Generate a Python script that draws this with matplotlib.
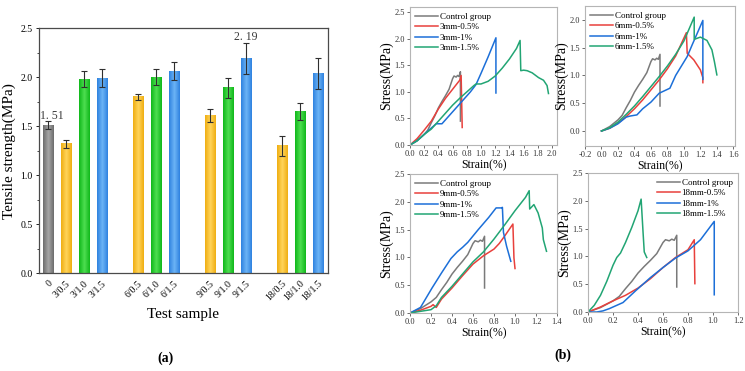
import numpy as np
import matplotlib
matplotlib.use("Agg")
import matplotlib.pyplot as plt
from matplotlib.colors import LinearSegmentedColormap

plt.rcParams['font.family'] = ['Liberation Serif', 'DejaVu Serif']

# --- (a) tensile strength bars ---
samples = ["0", "3/0.5", "3/1.0", "3/1.5", "6/0.5", "6/1.0", "6/1.5",
           "9/0.5", "9/1.0", "9/1.5", "18/0.5", "18/1.0", "18/1.5"]
strength = [1.51, 1.32, 1.98, 1.99, 1.80, 2.00, 2.06, 1.61, 1.89, 2.19, 1.30, 1.65, 2.04]
strength_err = [0.04, 0.04, 0.08, 0.09, 0.03, 0.08, 0.09, 0.07, 0.10, 0.16, 0.10, 0.09, 0.16]
bar_pos = [0, 1, 2, 3, 5, 6, 7, 9, 10, 11, 13, 14, 15]
bar_kind = ["ctrl", "0.5", "1.0", "1.5", "0.5", "1.0", "1.5",
            "0.5", "1.0", "1.5", "0.5", "1.0", "1.5"]

# --- (b) stress-strain curves ---
ctrl_x = [0, 0.1, 0.2, 0.25, 0.3, 0.35, 0.4, 0.45, 0.5, 0.55, 0.6, 0.62, 0.65, 0.67, 0.69, 0.71, 0.71]
ctrl_y = [0, 0.08, 0.2, 0.28, 0.42, 0.55, 0.7, 0.82, 0.93, 1.05, 1.25, 1.3, 1.28, 1.31, 1.29, 1.38, 0.45]

mm3_05_x = [0, 0.1, 0.2, 0.3, 0.4, 0.5, 0.6, 0.7, 0.72, 0.735]
mm3_05_y = [0, 0.12, 0.28, 0.45, 0.68, 0.88, 1.05, 1.22, 1.31, 0.33]
mm3_1_x = [0, 0.1, 0.2, 0.3, 0.37, 0.45, 0.55, 0.65, 0.75, 0.85, 0.93, 1.0, 1.1, 1.21, 1.21]
mm3_1_y = [0, 0.08, 0.2, 0.32, 0.4, 0.4, 0.55, 0.7, 0.85, 1.0, 1.14, 1.35, 1.66, 2.02, 0.98]
mm3_15_x = [0, 0.1, 0.2, 0.3, 0.4, 0.5, 0.6, 0.7, 0.8, 0.9, 0.93, 1.0, 1.1, 1.2, 1.3, 1.4, 1.5, 1.55,
            1.56, 1.6, 1.65, 1.72, 1.81, 1.88, 1.93, 1.95]
mm3_15_y = [0, 0.08, 0.2, 0.3, 0.45, 0.6, 0.75, 0.88, 1.0, 1.12, 1.15, 1.15, 1.2, 1.3, 1.45, 1.62, 1.82, 1.97,
            1.4, 1.41, 1.4, 1.36, 1.27, 1.22, 1.12, 0.97]

mm6_05_x = [0, 0.1, 0.2, 0.3, 0.4, 0.5, 0.6, 0.7, 0.8, 0.9, 1.03, 1.04, 1.12, 1.2, 1.23, 1.23]
mm6_05_y = [0, 0.05, 0.14, 0.26, 0.4, 0.56, 0.74, 0.92, 1.12, 1.35, 1.77, 1.40, 1.28, 1.1, 0.96, 0.87]
mm6_1_x = [0, 0.1, 0.2, 0.3, 0.35, 0.43, 0.5, 0.6, 0.7, 0.83, 0.9, 1.04, 1.1, 1.23, 1.23]
mm6_1_y = [0, 0.05, 0.13, 0.25, 0.27, 0.29, 0.4, 0.52, 0.68, 0.77, 1.0, 1.34, 1.55, 1.99, 0.93]
mm6_15_x = [0, 0.1, 0.2, 0.3, 0.4, 0.5, 0.6, 0.7, 0.8, 0.9, 1.0, 1.125, 1.125, 1.2, 1.28, 1.34, 1.37, 1.40]
mm6_15_y = [0, 0.06, 0.16, 0.3, 0.45, 0.62, 0.8, 0.98, 1.17, 1.38, 1.62, 2.05, 1.65, 1.69, 1.63, 1.46, 1.25, 1.01]

mm9_05_x = [0, 0.1, 0.2, 0.22, 0.25, 0.3, 0.4, 0.5, 0.6, 0.7, 0.8, 0.85, 0.9, 0.98, 0.99, 1.0]
mm9_05_y = [0, 0.05, 0.12, 0.15, 0.1, 0.25, 0.45, 0.67, 0.88, 1.03, 1.15, 1.25, 1.38, 1.6, 0.99, 0.8]
mm9_1_x = [0, 0.1, 0.21, 0.3, 0.39, 0.45, 0.5, 0.55, 0.65, 0.75, 0.82, 0.87, 0.88, 0.89, 0.92, 0.96]
mm9_1_y = [0, 0.1, 0.45, 0.72, 0.98, 1.1, 1.18, 1.27, 1.5, 1.72, 1.89, 1.89, 1.9, 1.45, 1.2, 0.93]
mm9_15_x = [0, 0.1, 0.2, 0.25, 0.3, 0.4, 0.5, 0.6, 0.7, 0.8, 0.9, 1.0, 1.1, 1.135, 1.14, 1.18, 1.22, 1.26,
            1.27, 1.30]
mm9_15_y = [0, 0.03, 0.06, 0.13, 0.28, 0.48, 0.7, 0.92, 1.1, 1.33, 1.58, 1.84, 2.08, 2.2, 1.87, 1.95, 1.8, 1.53,
            1.32, 1.11]

mm18_05_x = [0, 0.1, 0.2, 0.3, 0.4, 0.5, 0.6, 0.7, 0.8, 0.85, 0.855]
mm18_05_y = [0, 0.09, 0.2, 0.3, 0.43, 0.6, 0.8, 0.98, 1.12, 1.3, 0.51]
mm18_1_x = [0, 0.07, 0.12, 0.17, 0.28, 0.38, 0.5, 0.6, 0.7, 0.8, 0.9, 1.01, 1.01]
mm18_1_y = [0, 0.0, 0.02, 0.06, 0.17, 0.38, 0.62, 0.8, 0.97, 1.1, 1.3, 1.63, 0.31]
mm18_15_x = [0, 0.05, 0.1, 0.15, 0.2, 0.23, 0.26, 0.3, 0.35, 0.4, 0.425, 0.44, 0.45, 0.47]
mm18_15_y = [0, 0.12, 0.3, 0.55, 0.84, 0.98, 1.06, 1.25, 1.52, 1.82, 2.03, 1.45, 1.08, 0.98]

GRAY, RED, BLUE, GREEN = "#7a7a7a", "#e8403c", "#1c6fd8", "#22a574"

bar_colors = {
    "ctrl": ("#6c6c6c", "#a6a6a6"),
    "0.5": ("#efae12", "#ffd45a"),
    "1.0": ("#0fb81a", "#4ede50"),
    "1.5": ("#2f82e0", "#6cb4f6"),
}

fig = plt.figure(figsize=(7.45, 3.71), dpi=100)

# ---------------- panel (a) ----------------
ax = fig.add_axes([0.0523, 0.264, 0.388, 0.660])
w = 0.6
grad = 1 - np.abs(np.linspace(-1, 1, 64))
for x, h, k in zip(bar_pos, strength, bar_kind):
    cmap = LinearSegmentedColormap.from_list(k, list(bar_colors[k]))
    ax.imshow(grad[None, :], extent=(x - w / 2, x + w / 2, 0, h), cmap=cmap,
              aspect="auto", vmin=0, vmax=1, zorder=2)
ax.errorbar(bar_pos, strength, yerr=strength_err, fmt="none", ecolor="#2f2f2f",
            elinewidth=0.8, capsize=2.5, capthick=0.8, zorder=3)
ax.text(bar_pos[0] - 0.42, 1.6, "1. 51", ha="left", va="center", fontsize=8.5, color="#3a3a3a")
ax.text(bar_pos[9], 2.41, "2. 19", ha="center", va="center", fontsize=8.5, color="#3a3a3a")
ax.set_xlim(-0.5, 15.55)
ax.set_ylim(0, 2.5)
ax.set_aspect("auto")
ax.set_xticks(bar_pos)
ax.set_xticklabels(samples, rotation=45, ha="right", va="top", rotation_mode="anchor",
                   fontsize=7)
ax.set_yticks(np.arange(0, 2.51, 0.5))
ax.set_yticklabels([f"{v:.1f}" for v in np.arange(0, 2.51, 0.5)], fontsize=7)
ax.set_yticks(np.arange(0, 2.51, 0.25), minor=True)
ax.tick_params(axis="x", length=0, pad=4)
ax.tick_params(axis="y", which="major", direction="out", length=2.5, width=0.6, pad=2)
ax.tick_params(axis="y", which="minor", direction="out", length=1.5, width=0.5)
for s in ax.spines.values():
    s.set_color("#4a4a4a")
    s.set_linewidth(0.9)
ax.set_ylabel("Tensile strength(MPa)", fontsize=11, labelpad=3)
ax.set_xlabel("Test sample", fontsize=11, labelpad=4)
fig.text(165 / 745, 1 - 358 / 371, "(a)", fontsize=10, fontweight="bold",
         ha="center", va="center")

# ---------------- panel (b) ----------------
panels = [
    ([410, 557, 7, 145], (0, 2.07), (0, 2.6), np.arange(0, 2.01, 0.2), "3mm",
     [(mm3_05_x, mm3_05_y), (mm3_1_x, mm3_1_y), (mm3_15_x, mm3_15_y)], "upper left"),
    ([585, 735, 6, 146], (-0.2, 1.62), (-0.27, 2.25), np.arange(-0.2, 1.61, 0.2), "6mm",
     [(mm6_05_x, mm6_05_y), (mm6_1_x, mm6_1_y), (mm6_15_x, mm6_15_y)], "upper left"),
    ([410, 557, 174, 313], (0, 1.4), (0, 2.5), np.arange(0, 1.41, 0.2), "9mm",
     [(mm9_05_x, mm9_05_y), (mm9_1_x, mm9_1_y), (mm9_15_x, mm9_15_y)], "upper left"),
    ([588, 738, 173, 312], (0, 1.19), (0, 2.5), np.arange(0, 1.21, 0.2), "18mm",
     [(mm18_05_x, mm18_05_y), (mm18_1_x, mm18_1_y), (mm18_15_x, mm18_15_y)], "upper right"),
]

for (l, r, t, b), xl, yl, xt, name, curves, loc in panels:
    bx = fig.add_axes([l / 745, 1 - b / 371, (r - l) / 745, (b - t) / 371])
    bx.plot(ctrl_x, ctrl_y, color=GRAY, lw=1.1, label="Control group")
    labels = [f"{name}-0.5%", f"{name}-1%", f"{name}-1.5%"]
    for (cx, cy), c, lab in zip(curves, [RED, BLUE, GREEN], labels):
        bx.plot(cx, cy, color=c, lw=1.1, label=lab)
    bx.set_xlim(*xl)
    bx.set_ylim(*yl)
    bx.set_xticks(xt)
    bx.set_xticklabels([f"{v:.1f}" for v in xt], fontsize=6)
    yt = np.arange(0, yl[1] + 0.01, 0.5)
    bx.set_yticks(yt)
    bx.set_yticklabels([f"{v:.1f}" for v in yt], fontsize=6)
    bx.tick_params(direction="out", length=2, width=0.5, pad=1.5, colors="#333333")
    for s in bx.spines.values():
        s.set_color("#b5b5b5")
        s.set_linewidth(0.8)
    bx.set_xlabel("Strain(%)", fontsize=8.5, labelpad=1)
    bx.set_ylabel("Stress(MPa)", fontsize=10, labelpad=1)
    bx.legend(loc=loc, frameon=False, fontsize=6.5, handlelength=2.5, handletextpad=0.2,
              labelspacing=0.25, borderaxespad=0.2)

fig.text(563 / 745, 1 - 355 / 371, "(b)", fontsize=10, fontweight="bold",
         ha="center", va="center")

fig.savefig("out.png", dpi=100)
